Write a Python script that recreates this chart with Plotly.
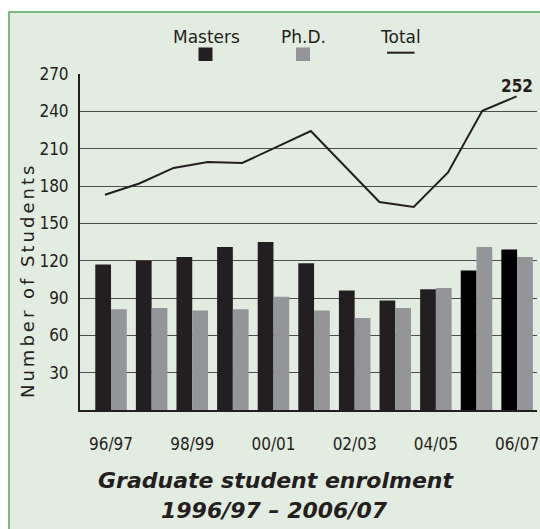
import plotly.graph_objects as go

# ---------------- data ----------------
years = ["96/97", "97/98", "98/99", "99/00", "00/01", "01/02",
         "02/03", "03/04", "04/05", "05/06", "06/07"]
tick_years = ["96/97", "98/99", "00/01", "02/03", "04/05", "06/07"]
masters = [117, 120, 123, 131, 135, 118, 96, 88, 97, 112, 129]
phd = [81, 82, 80, 81, 91, 80, 74, 82, 98, 131, 123]
# total line as drawn in the picture (13 vertices)
total_steps = list(range(13))
total = [173, 182, 194.5, 199.3, 198.5, 211.3, 224.2, 195.7, 167.1, 163.1, 190.9, 240.5, 252]
y_ticks = [30, 60, 90, 120, 150, 180, 210, 240, 270]

# ---------------- layout geometry ----------------
W, H = 540, 529
L, R, T, B = 80, 3, 74, 119
PW, PH = W - L - R, H - T - B


def px_x(x):
    return (x - L) / PW


def px_y(y):
    return (H - B - y) / PH


INK = "#231f20"
GREY = "#939598"
BG = "#e3ece1"
GREEN = "#5aa85c"
NARROW = "Liberation Sans Narrow, Arial Narrow, DejaVu Sans Condensed, sans-serif"
GOTHIC = "DejaVu Sans, sans-serif"

masters_colors = [INK] * 9 + ["#000000"] * 2

fig = go.Figure()
fig.add_trace(go.Bar(x=years, y=masters, name="Masters",
                     marker=dict(color=masters_colors, line=dict(width=0))))
fig.add_trace(go.Bar(x=years, y=phd, name="Ph.D.",
                     marker=dict(color=GREY, line=dict(width=0))))
fig.add_trace(go.Scatter(x=total_steps, y=total, name="Total", mode="lines",
                         xaxis="x2", line=dict(color=INK, width=2)))


def note(x, y, text, font, **kw):
    d = dict(x=px_x(x), y=px_y(y), xref="paper", yref="paper", text=text,
             showarrow=False, xanchor="center", yanchor="middle", font=font)
    d.update(kw)
    return d


annotations = [
    dict(x=total_steps[-1], y=total[-1], xref="x2", yref="y",
         text="<b>%d</b>" % total[-1], showarrow=False, yshift=10,
         xanchor="center", yanchor="middle",
         font=dict(family=NARROW, size=17, color=INK)),
    note(27, 281, '<span style="letter-spacing:3px">Number of Students</span>',
         dict(family=GOTHIC, size=18, color=INK), textangle=-90),
    note(276, 480, "<b><i>Graduate student enrolment</i></b>",
         dict(family=GOTHIC, size=22, color=INK)),
    note(274, 510, "<b><i>1996/97 – 2006/07</i></b>",
         dict(family=GOTHIC, size=22, color=INK)),
    note(206, 37, "Masters", dict(family=GOTHIC, size=17, color=INK)),
    note(303, 37, "Ph.D.", dict(family=GOTHIC, size=17, color=INK)),
    note(400.5, 37, "Total", dict(family=GOTHIC, size=17, color=INK)),
]

shapes = [
    dict(type="rect", xref="paper", yref="paper", layer="below",
         x0=px_x(9), x1=px_x(560), y0=px_y(560), y1=px_y(12),
         fillcolor=BG, line=dict(color=GREEN, width=1.5)),
    dict(type="rect", xref="paper", yref="paper",
         x0=px_x(198.5), x1=px_x(212.5), y0=px_y(61), y1=px_y(47.5),
         fillcolor=INK, line=dict(width=0)),
    dict(type="rect", xref="paper", yref="paper",
         x0=px_x(296), x1=px_x(310), y0=px_y(61), y1=px_y(47.5),
         fillcolor=GREY, line=dict(width=0)),
    dict(type="line", xref="paper", yref="paper",
         x0=px_x(387), x1=px_x(414.5), y0=px_y(52.7), y1=px_y(52.7),
         line=dict(color=INK, width=2)),
]

fig.update_layout(
    width=W, height=H,
    margin=dict(l=L, r=R, t=T, b=B, pad=0, autoexpand=False),
    paper_bgcolor="white", plot_bgcolor="rgba(0,0,0,0)",
    barmode="group", bargap=0.224, bargroupgap=0,
    showlegend=False,
    annotations=annotations, shapes=shapes,
    xaxis=dict(type="category", categoryorder="array", categoryarray=years,
               range=[-0.764, 10.49], tickvals=tick_years, ticktext=tick_years,
               showgrid=False, showline=True, linecolor=INK, linewidth=2,
               ticks="", ticklabelstandoff=18, automargin=False,
               tickfont=dict(family=NARROW, size=17, color=INK)),
    xaxis2=dict(overlaying="x", range=[-0.729, 12.595], visible=False),
    yaxis=dict(range=[0, 270], tickvals=y_ticks, ticktext=[str(v) for v in y_ticks],
               showgrid=True, gridcolor="#4d4d4d", gridwidth=1, zeroline=False,
               showline=True, linecolor=INK, linewidth=2, ticks="",
               ticklabelstandoff=6, automargin=False,
               tickfont=dict(family=NARROW, size=17, color=INK)),
)

fig.write_html("out.html", config={"displayModeBar": False},
               post_script="document.body.style.margin='0';")
